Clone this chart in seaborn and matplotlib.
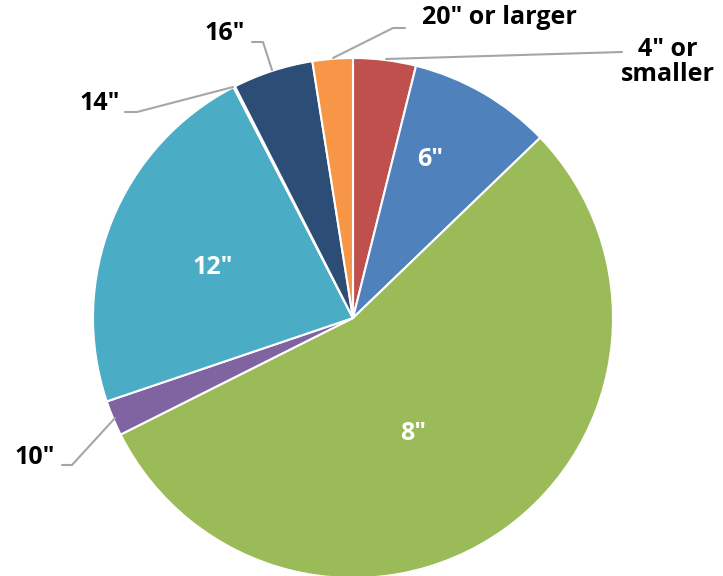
import matplotlib
matplotlib.use('Agg')
import matplotlib.pyplot as plt
import seaborn as sns

sizes = ['4" or\nsmaller', '6"', '8"', '10"', '12"', '14"', '16"', '20" or larger']
shares = [3.9, 8.9, 54.8, 2.2, 22.6, 0.1, 5.0, 2.5]
colors = ['#C0504D', '#4F81BD', '#9BBB59', '#8064A2', '#4BACC6', '#2C4D75', '#2C4D75', '#F79646']

sns.set_theme(style='white')
plt.rcParams['font.family'] = ['Open Sans', 'DejaVu Sans']

fig = plt.figure(figsize=(7.23, 5.76), dpi=100)
ax = fig.add_axes([0, 0, 1, 1])

R = 260.0
cx, cy = 353, 318


def px(x, y):
    return ((x - cx) / R, (cy - y) / R)


wedges, _ = ax.pie(shares, colors=colors, startangle=90, counterclock=False,
                   radius=1.0, wedgeprops=dict(edgecolor='white', linewidth=1.5))

ax.set_xlim(-cx / R, (723 - cx) / R)
ax.set_ylim((cy - 576) / R, cy / R)
ax.set_aspect('equal')
ax.axis('off')

# labels inside slices
inside = {'6"': (430, 160), '8"': (413, 433), '12"': (213, 267)}
for lab, (x, y) in inside.items():
    ax.text(*px(x, y), lab, color='white', fontsize=18, fontweight='bold',
            ha='center', va='center')

# labels outside with leader lines
lc = '#A6A6A6'
outside = [
    ('4" or\nsmaller', (668, 62), [(386, 59), (622, 52)]),
    ('20" or larger', (499, 18), [(333, 58), (393, 28), (405, 28)]),
    ('16"', (225, 33), [(272, 70), (263, 42), (252, 42)]),
    ('14"', (100, 103), [(233, 87), (137, 112), (125, 112)]),
    ('10"', (35, 458), [(115, 418), (72, 465), (62, 465)]),
]
for lab, (x, y), pts in outside:
    ax.text(*px(x, y), lab, color='black', fontsize=18, fontweight='bold',
            ha='center', va='center', linespacing=1.05)
    xs = [px(a, b)[0] for a, b in pts]
    ys = [px(a, b)[1] for a, b in pts]
    ax.plot(xs, ys, color=lc, linewidth=1.5)

fig.savefig('out.png', dpi=100)
